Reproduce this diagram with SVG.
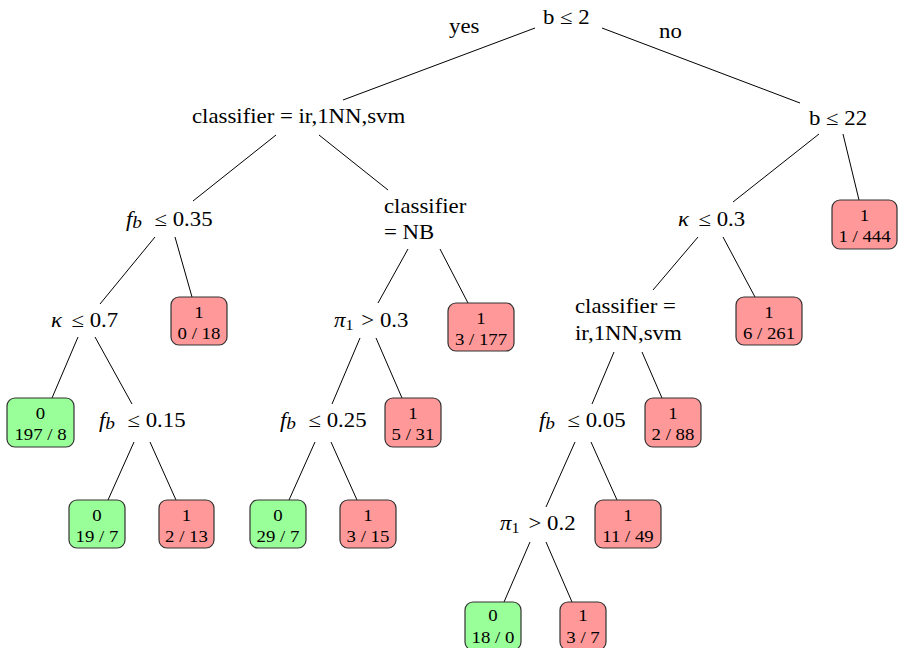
<svg xmlns="http://www.w3.org/2000/svg" width="898" height="648" viewBox="0 0 898 648">
<style>
  text { font-family: "Liberation Serif", "Times New Roman", serif; fill: #000; }
  .s { font-size: 20px; }
  .lf { font-size: 16.5px; text-anchor: middle; }
  .it { font-style: italic; }
  .sb { font-size: 17px; font-style: italic; }
  .sub { font-size: 14px; }
  .edge line { stroke: #000; stroke-width: 1; }
  .g rect { fill: #99ff99; stroke: #333; stroke-width: 1.2; }
  .r rect { fill: #ff9999; stroke: #333; stroke-width: 1.2; }
</style>
<rect width="898" height="648" fill="#fff"/>
<g id="connectors" class="edge">
  <line x1="535" y1="28" x2="343" y2="100"/>
  <line x1="602" y1="28" x2="800" y2="103"/>
  <line x1="276" y1="135" x2="193" y2="201"/>
  <line x1="319" y1="135" x2="388" y2="190"/>
  <line x1="155" y1="237" x2="100" y2="304"/>
  <line x1="175" y1="237" x2="192" y2="297"/>
  <line x1="78" y1="337" x2="52" y2="398"/>
  <line x1="95" y1="337" x2="132" y2="404"/>
  <line x1="134" y1="442" x2="108" y2="500"/>
  <line x1="150" y1="442" x2="176" y2="500"/>
  <line x1="408" y1="249" x2="378" y2="303"/>
  <line x1="440" y1="249" x2="468" y2="303"/>
  <line x1="360" y1="338" x2="332" y2="404"/>
  <line x1="376" y1="338" x2="402" y2="398"/>
  <line x1="315" y1="442" x2="289" y2="500"/>
  <line x1="331" y1="442" x2="357" y2="500"/>
  <line x1="819" y1="134" x2="733" y2="202"/>
  <line x1="843" y1="134" x2="859" y2="200"/>
  <line x1="698" y1="237" x2="653" y2="290"/>
  <line x1="723" y1="237" x2="755" y2="297"/>
  <line x1="614" y1="352" x2="592" y2="404"/>
  <line x1="642" y1="352" x2="662" y2="398"/>
  <line x1="575" y1="442" x2="546" y2="507"/>
  <line x1="591" y1="442" x2="617" y2="500"/>
  <line x1="530" y1="542" x2="504" y2="602"/>
  <line x1="546" y1="542" x2="572" y2="602"/>
</g>
<g id="edge-labels">
  <text class="s" transform="translate(449 33) scale(1.14 1)">yes</text>
  <text class="s" transform="translate(659 38) scale(1.14 1)">no</text>
</g>
<g id="n-root"><text class="s" transform="translate(543 24) scale(1.14 1)">b ≤ 2</text></g>
<g id="n-cls1"><text class="s" transform="translate(192 123) scale(1.14 1)">classifier = ir,1NN,svm</text></g>
<g id="n-b22"><text class="s" transform="translate(809 125) scale(1.14 1)">b ≤ 22</text></g>
<g id="n-fb035"><text class="s" transform="translate(126 226) scale(1.14 1)"><tspan class="it">f</tspan><tspan class="sb" dy="2">b</tspan><tspan x="25" dy="-2">≤ 0.35</tspan></text></g>
<g id="n-nb"><text class="s" transform="translate(384 213) scale(1.14 1)">classifier</text><text class="s" transform="translate(384 239) scale(1.14 1)">= NB</text></g>
<g id="n-k03"><text class="s" transform="translate(678 226) scale(1.14 1)"><tspan class="it">κ</tspan><tspan x="18">≤ 0.3</tspan></text></g>
<g id="n-k07"><text class="s" transform="translate(51 327) scale(1.14 1)"><tspan class="it">κ</tspan><tspan x="18">≤ 0.7</tspan></text></g>
<g id="n-p03"><text class="s" transform="translate(334 327) scale(1.14 1)"><tspan class="it">π</tspan><tspan class="sub" dy="3">1</tspan><tspan x="24" dy="-3">&gt; 0.3</tspan></text></g>
<g id="n-cls2"><text class="s" transform="translate(575 313) scale(1.14 1)">classifier =</text><text class="s" transform="translate(575 340) scale(1.14 1)">ir,1NN,svm</text></g>
<g id="n-fb015"><text class="s" transform="translate(99 427) scale(1.14 1)"><tspan class="it">f</tspan><tspan class="sb" dy="2">b</tspan><tspan x="25" dy="-2">≤ 0.15</tspan></text></g>
<g id="n-fb025"><text class="s" transform="translate(280 427) scale(1.14 1)"><tspan class="it">f</tspan><tspan class="sb" dy="2">b</tspan><tspan x="25" dy="-2">≤ 0.25</tspan></text></g>
<g id="n-fb005"><text class="s" transform="translate(539 427) scale(1.14 1)"><tspan class="it">f</tspan><tspan class="sb" dy="2">b</tspan><tspan x="25" dy="-2">≤ 0.05</tspan></text></g>
<g id="n-p02"><text class="s" transform="translate(500 530) scale(1.14 1)"><tspan class="it">π</tspan><tspan class="sub" dy="3">1</tspan><tspan x="25" dy="-3">&gt; 0.2</tspan></text></g>

<g id="l-1-444" class="r"><rect x="832" y="200" width="65" height="49" rx="8"/><text class="lf" transform="translate(864.5 220.5) scale(1.14 1)">1</text><text class="lf" transform="translate(864.5 241.5) scale(1.14 1)">1 / 444</text></g>
<g id="l-6-261" class="r"><rect x="736" y="297" width="66" height="48" rx="8"/><text class="lf" transform="translate(769 317.5) scale(1.14 1)">1</text><text class="lf" transform="translate(769 338.5) scale(1.14 1)">6 / 261</text></g>
<g id="l-3-177" class="r"><rect x="448" y="303" width="66" height="48" rx="8"/><text class="lf" transform="translate(481 323.5) scale(1.14 1)">1</text><text class="lf" transform="translate(481 344.5) scale(1.14 1)">3 / 177</text></g>
<g id="l-0-18" class="r"><rect x="171" y="297" width="56" height="48" rx="8"/><text class="lf" transform="translate(199 317.5) scale(1.14 1)">1</text><text class="lf" transform="translate(199 338.5) scale(1.14 1)">0 / 18</text></g>
<g id="l-197-8" class="g"><rect x="7" y="398" width="67" height="49" rx="8"/><text class="lf" transform="translate(40.5 418.5) scale(1.14 1)">0</text><text class="lf" transform="translate(40.5 439.5) scale(1.14 1)">197 / 8</text></g>
<g id="l-5-31" class="r"><rect x="385" y="398" width="56" height="49" rx="8"/><text class="lf" transform="translate(413 418.5) scale(1.14 1)">1</text><text class="lf" transform="translate(413 439.5) scale(1.14 1)">5 / 31</text></g>
<g id="l-2-88" class="r"><rect x="645" y="398" width="56" height="49" rx="8"/><text class="lf" transform="translate(673 418.5) scale(1.14 1)">1</text><text class="lf" transform="translate(673 439.5) scale(1.14 1)">2 / 88</text></g>
<g id="l-19-7" class="g"><rect x="69" y="500" width="56" height="48" rx="8"/><text class="lf" transform="translate(97 520.5) scale(1.14 1)">0</text><text class="lf" transform="translate(97 541.5) scale(1.14 1)">19 / 7</text></g>
<g id="l-2-13" class="r"><rect x="159" y="500" width="55" height="48" rx="8"/><text class="lf" transform="translate(186.5 520.5) scale(1.14 1)">1</text><text class="lf" transform="translate(186.5 541.5) scale(1.14 1)">2 / 13</text></g>
<g id="l-29-7" class="g"><rect x="250" y="500" width="56" height="48" rx="8"/><text class="lf" transform="translate(278 520.5) scale(1.14 1)">0</text><text class="lf" transform="translate(278 541.5) scale(1.14 1)">29 / 7</text></g>
<g id="l-3-15" class="r"><rect x="340" y="500" width="56" height="48" rx="8"/><text class="lf" transform="translate(368 520.5) scale(1.14 1)">1</text><text class="lf" transform="translate(368 541.5) scale(1.14 1)">3 / 15</text></g>
<g id="l-11-49" class="r"><rect x="595" y="500" width="66" height="48" rx="8"/><text class="lf" transform="translate(628 520.5) scale(1.14 1)">1</text><text class="lf" transform="translate(628 541.5) scale(1.14 1)">11 / 49</text></g>
<g id="l-18-0" class="g"><rect x="465" y="602" width="56" height="48" rx="8"/><text class="lf" transform="translate(493 621) scale(1.14 1)">0</text><text class="lf" transform="translate(493 643) scale(1.14 1)">18 / 0</text></g>
<g id="l-3-7" class="r"><rect x="560" y="602" width="46" height="48" rx="8"/><text class="lf" transform="translate(583 621) scale(1.14 1)">1</text><text class="lf" transform="translate(583 643) scale(1.14 1)">3 / 7</text></g>
</svg>
